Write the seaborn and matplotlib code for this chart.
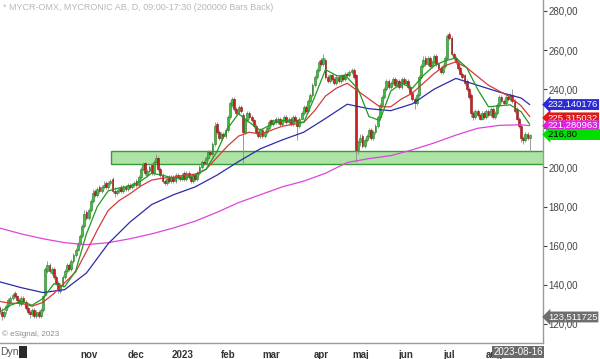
import numpy as np
import pandas as pd
import matplotlib
matplotlib.use("Agg")
import matplotlib.pyplot as plt
import seaborn as sns
from matplotlib.patches import Rectangle
from matplotlib.transforms import blended_transform_factory

# trading days (Stockholm), Sep 2022 - Aug 2023
holidays = ['2022-12-26', '2023-01-06', '2023-04-07', '2023-04-10',
            '2023-05-01', '2023-05-18', '2023-06-06', '2023-06-23']
dates = pd.bdate_range('2022-09-05', '2023-08-23')
dates = dates[~dates.isin(pd.to_datetime(holidays))]

opens = [
    128, 126, 124, 127, 129, 131, 133, 136, 134, 132,
    130, 133, 131, 128, 126, 125, 127, 124, 126, 124,
    127, 135, 147, 150, 146, 148, 144, 141, 137, 140,
    144, 147, 150, 148, 152, 155, 158, 161, 165, 170,
    177, 174, 178, 183, 188, 186, 190, 188, 190, 192,
    190, 192, 194, 188, 187, 188, 190, 188, 190, 189,
    191, 190, 191, 193, 191, 195, 199, 202, 196, 198,
    201, 197, 203, 205, 199, 196, 193, 192, 195, 193,
    195, 193, 196, 195, 194, 197, 194, 197, 195, 193,
    196, 194, 197, 200, 203, 202, 205, 208, 207, 212,
    222, 218, 215, 217, 216, 219, 226, 232, 235, 230,
    228, 231, 227, 218, 224, 228, 226, 224, 221, 218,
    216, 219, 216, 218, 220, 224, 222, 225, 223, 225,
    222, 224, 226, 223, 225, 222, 226, 224, 221, 225,
    228, 231, 229, 234, 237, 242, 246, 250, 255, 253,
    255, 246, 244, 247, 245, 243, 246, 244, 247, 245,
    248, 247, 249, 250, 247, 209, 213, 216, 211, 214,
    216, 219, 215, 218, 221, 226, 232, 236, 240, 244,
    241, 243, 245, 242, 244, 241, 245, 243, 244, 241,
    238, 235, 233, 237, 246, 252, 256, 253, 256, 252,
    254, 257, 253, 251, 249, 252, 256, 268, 266, 258,
    256, 254, 251, 248, 247, 244, 240, 237, 228, 226,
    229, 227, 225, 228, 226, 229, 227, 230, 226, 228,
    232, 236, 234, 233, 236, 235, 237, 234, 230, 225,
    221, 215, 214, 217, 215,
]
highs = [
    129, 128, 127, 130, 133, 134, 136, 137, 135, 133,
    134, 134, 132, 129, 127, 128, 128, 127, 127, 128,
    135, 149, 152, 151, 149, 149, 145, 142, 141, 145,
    148, 151, 151, 153, 156, 159, 162, 166, 171, 178,
    178, 179, 184, 189, 189, 190, 191, 191, 193, 193,
    193, 194, 195, 190, 189, 190, 191, 191, 191, 192,
    192, 192, 193, 194, 196, 200, 203, 203, 199, 201,
    202, 204, 207, 206, 200, 197, 194, 195, 196, 196,
    196, 197, 197, 196, 197, 198, 198, 198, 196, 197,
    197, 198, 201, 204, 204, 206, 209, 209, 213, 223,
    223, 219, 218, 218, 220, 227, 234, 236, 236, 231,
    232, 232, 228, 225, 229, 229, 227, 225, 222, 219,
    220, 220, 219, 221, 224, 225, 225, 226, 226, 226,
    225, 227, 227, 226, 226, 227, 227, 225, 226, 229,
    232, 232, 235, 238, 243, 247, 251, 255, 256, 258,
    256, 247, 248, 248, 246, 247, 247, 248, 248, 249,
    249, 250, 251, 251, 248, 214, 217, 217, 215, 217,
    220, 220, 219, 222, 227, 233, 237, 241, 245, 245,
    244, 246, 246, 245, 245, 246, 246, 245, 245, 242,
    239, 236, 238, 247, 253, 257, 257, 257, 257, 255,
    258, 258, 254, 252, 253, 257, 268, 269, 267, 259,
    257, 255, 252, 249, 248, 245, 241, 238, 229, 230,
    230, 228, 229, 229, 230, 230, 231, 231, 229, 233,
    237, 237, 235, 237, 237, 238, 240, 235, 231, 226,
    222, 216, 218, 218, 217,
]
lows = [
    125, 122, 123, 125, 128, 130, 132, 133, 131, 129,
    129, 130, 127, 125, 123, 124, 123, 123, 123, 123,
    126, 134, 146, 146, 145, 143, 140, 136, 136, 139,
    143, 146, 147, 147, 151, 154, 157, 160, 164, 169,
    173, 173, 177, 182, 185, 185, 187, 187, 189, 189,
    189, 191, 187, 185, 186, 187, 187, 187, 188, 188,
    189, 189, 190, 190, 190, 194, 198, 196, 195, 197,
    196, 196, 202, 198, 195, 192, 191, 191, 192, 192,
    192, 192, 194, 193, 193, 193, 193, 194, 192, 192,
    193, 193, 196, 199, 201, 201, 204, 206, 206, 211,
    217, 214, 214, 215, 215, 218, 225, 231, 229, 227,
    227, 228, 201, 217, 223, 225, 223, 220, 217, 215,
    215, 215, 215, 217, 219, 221, 221, 222, 222, 221,
    221, 223, 222, 222, 221, 221, 223, 214, 220, 224,
    227, 228, 228, 233, 236, 241, 245, 249, 252, 252,
    245, 243, 243, 244, 242, 242, 243, 243, 244, 244,
    246, 246, 248, 245, 203, 207, 211, 210, 210, 213,
    215, 214, 214, 217, 220, 225, 231, 235, 239, 240,
    240, 242, 241, 241, 240, 240, 242, 242, 240, 237,
    234, 230, 232, 236, 245, 251, 252, 252, 251, 251,
    253, 252, 250, 248, 248, 251, 255, 265, 257, 255,
    253, 250, 247, 245, 242, 239, 235, 226, 224, 225,
    226, 224, 224, 225, 225, 226, 226, 225, 225, 227,
    231, 233, 232, 232, 234, 234, 233, 228, 224, 220,
    213, 212, 213, 214, 208,
]
closes = [
    127, 124, 126, 129, 132, 133, 135, 134, 132, 131,
    133, 131, 128, 126, 125, 127, 124, 126, 124, 127,
    134, 148, 150, 147, 148, 144, 141, 138, 140, 144,
    147, 150, 148, 152, 155, 158, 161, 165, 170, 176,
    174, 178, 183, 187, 186, 189, 188, 190, 191, 190,
    192, 193, 188, 187, 188, 189, 188, 190, 189, 191,
    190, 191, 192, 191, 195, 199, 201, 197, 198, 200,
    197, 203, 205, 199, 196, 193, 192, 194, 193, 195,
    193, 196, 195, 194, 196, 194, 197, 195, 193, 196,
    194, 197, 200, 203, 202, 205, 208, 207, 212, 221,
    218, 215, 217, 216, 219, 226, 233, 235, 230, 228,
    231, 229, 218, 224, 228, 226, 224, 221, 218, 216,
    219, 216, 218, 220, 223, 222, 224, 223, 225, 222,
    224, 226, 223, 225, 222, 226, 224, 221, 225, 228,
    231, 229, 234, 237, 242, 246, 250, 254, 253, 256,
    246, 244, 247, 245, 243, 246, 244, 247, 245, 248,
    247, 249, 250, 246, 209, 213, 215, 211, 214, 216,
    219, 215, 218, 221, 226, 232, 236, 240, 244, 241,
    243, 245, 242, 244, 241, 245, 243, 244, 241, 238,
    235, 233, 237, 246, 252, 255, 253, 256, 252, 254,
    257, 253, 251, 249, 252, 256, 267, 266, 258, 256,
    254, 251, 248, 246, 243, 240, 236, 228, 226, 229,
    227, 225, 228, 226, 229, 227, 230, 226, 228, 232,
    236, 234, 233, 236, 235, 237, 234, 229, 225, 221,
    215, 214, 217, 215, 216.8,
]

# moving averages, sampled off the chart (trading-day index)
ma_fast_idx = list(range(0, 241, 5)) + [244]
ma_green = [
    126, 129.5, 131.5, 129.5, 133, 140.5, 139, 147, 166, 180,
    188, 189.5, 190.5, 193, 197, 196, 194.5, 194.5, 196, 199,
    208, 220, 227.5, 223, 219, 222, 224, 223.5, 223, 236,
    250, 247, 246, 240, 226, 224, 239, 243, 240.5, 247,
    252, 254.5, 256, 251, 240, 231, 231.5, 232, 228.5, 222,
]
ma_red = [
    131.5, 130.5, 130.5, 129, 131, 135.5, 141, 146.5, 157, 168,
    178, 183, 186.5, 190.5, 193.5, 194.5, 195, 196, 196.5, 199,
    205, 211, 216, 218, 217, 219, 221, 222, 223, 229,
    236.5, 240.5, 243, 239, 235, 231, 231, 235, 238, 243,
    248, 252, 254, 251, 246.5, 242, 239, 236, 231.5, 226,
]
ma_slow_idx = list(range(0, 241, 10)) + [244]
ma_blue = [
    141.5, 138.5, 136, 137.5, 146, 161, 172, 181, 186, 190,
    196, 203, 209.5, 214, 218, 225, 232.3, 230, 229, 232.5,
    240, 245.5, 242, 238.5, 235.5, 232.1,
]
ma_magenta = [
    169, 166, 163.5, 161.5, 160.5, 161.5, 163.5, 166, 169, 172.5,
    177, 182, 186, 190, 193, 197, 202.5, 204.5, 206, 209,
    212.5, 216.5, 220, 221.5, 221.8, 221.3,
]

# support zone
zone_lo, zone_hi, zone_start = 201.7, 208.2, 51.3

month_labels = ['', 'nov', 'dec', '2023', 'feb', 'mar', 'apr', 'maj', 'jun', 'jul', 'aug']
y_ticks = [120, 140, 160, 180, 200, 220, 240, 260, 280]

# right-hand value tags: (value, text, background, text colour)
tags = [
    (232.140176, '232,140176', '#2a2ad4', 'white'),
    (225.315032, '225,315032', '#e01818', 'white'),
    (221.280963, '221,280963', '#e020e0', 'white'),
    (216.80, '216,80         ', '#00e000', 'black'),
    (123.511725, '123,511725', '#6e6e6e', 'white'),
]

df = pd.DataFrame({'date': dates, 'open': opens, 'high': highs,
                   'low': lows, 'close': closes})
df['i'] = np.arange(len(df))

sns.set_style('white')
plt.rcParams['font.family'] = ['Liberation Sans', 'DejaVu Sans']

fig = plt.figure(figsize=(6, 3.59), dpi=100)
ax = fig.add_axes([0, 16 / 359, 543 / 600, 343 / 359])

# zone
ax.add_patch(Rectangle((zone_start, zone_lo), 260 - zone_start, zone_hi - zone_lo,
                       facecolor='#aee3a6', edgecolor='#3a9a3a', lw=1.0, zorder=1))

# candles
up = df['close'] >= df['open']
body_lo = df[['open', 'close']].min(axis=1)
body_h = (df['close'] - df['open']).abs().clip(lower=0.4)
ax.vlines(df['i'], df['low'], df['high'], color='#8c8c8c', lw=0.6, zorder=2)
ax.bar(df['i'], body_h, bottom=body_lo, width=0.85,
       color=np.where(up, '#3cbf3c', '#cc2020'),
       edgecolor=np.where(up, '#237a23', '#8a1010'), linewidth=0.4, zorder=3)

# moving averages
lw = 0.9
sns.lineplot(x=ma_slow_idx, y=ma_magenta, color='#dd44dd', lw=lw, ax=ax, zorder=4)
sns.lineplot(x=ma_slow_idx, y=ma_blue, color='#2b2ba8', lw=lw, ax=ax, zorder=4)
sns.lineplot(x=ma_fast_idx, y=ma_red, color='#d63a3a', lw=lw, ax=ax, zorder=4)
sns.lineplot(x=ma_fast_idx, y=ma_green, color='#1e9a1e', lw=lw, ax=ax, zorder=4)

ax.set_xlim(0.21, 250.1)
ax.set_ylim(110.2, 285.6)

# axes styling
for s in ['top', 'left']:
    ax.spines[s].set_visible(False)
for s in ['right', 'bottom']:
    ax.spines[s].set_color('#9a9a9a')
    ax.spines[s].set_linewidth(1.0)

ax.yaxis.tick_right()
ax.set_yticks(y_ticks)
ax.set_yticklabels([f'{v:.2f}'.replace('.', ',') for v in y_ticks])
ax.tick_params(axis='y', length=3, pad=1, labelsize=7, colors='#444444')

month_pos = df.groupby(df['date'].dt.to_period('M'))['i'].first().values[1:]
ax.set_xticks(month_pos)
ax.set_xticklabels(month_labels, fontweight='bold')
ax.tick_params(axis='x', length=3, pad=2, labelsize=7, colors='#333333')
ax.set_xlabel('')
ax.set_ylabel('')

# value tags on the price axis
trans = blended_transform_factory(ax.transAxes, ax.transData)
for val, txt, bg, fg in tags:
    ax.text(1.009, val, txt, transform=trans, ha='left', va='center',
            fontsize=6.8, color=fg, clip_on=False, zorder=10,
            bbox=dict(boxstyle='larrow,pad=0.1', fc=bg, ec='none'))

# header / footer texts
fig.text(3 / 600, 1 - 8 / 359, '* MYCR-OMX, MYCRONIC AB, D, 09:00-17:30 (200000 Bars Back)',
         fontsize=6.5, color='#b8b8b8', va='center', ha='left')
fig.text(2 / 600, 1 - 334 / 359, '\u00a9 eSignal, 2023', fontsize=5.8,
         color='#8a8a8a', va='center', ha='left')
fig.text(0, 1 - 352 / 359, 'Dyn', fontsize=7.5, color='#555555', va='center', ha='left')
fig.patches.append(Rectangle((19 / 600, 1 - 358 / 359), 8 / 600, 12 / 359,
                             transform=fig.transFigure, fc='#2a2a2a', ec='none'))
fig.text(543 / 600, 1 - 352 / 359, '2023-08-16', fontsize=7, color='white',
         va='center', ha='right', zorder=10,
         bbox=dict(boxstyle='square,pad=0.15', fc='#6a6a6a', ec='none'))

fig.savefig('out.png', dpi=100)
